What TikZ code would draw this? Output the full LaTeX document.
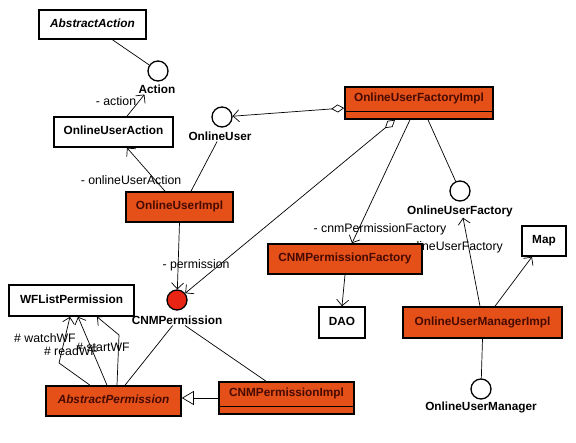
\documentclass[tikz,border=0pt]{standalone}
\usepackage{fontspec}
\setmainfont{Liberation Sans}
\usepackage{tikz}
\usetikzlibrary{arrows.meta,positioning}
\definecolor{classorange}{RGB}{228,80,24}
\definecolor{ifacered}{RGB}{232,36,20}
\definecolor{nametext}{RGB}{70,10,0}

\begin{document}
\begin{tikzpicture}[x=1pt,y=-1pt,
  cls/.style={draw,line width=1.6pt,fill=white,inner sep=0pt,font=\fontsize{11.8}{13}\selectfont\bfseries,text height=8.5pt,text depth=2.5pt},
  impl/.style={cls,fill=classorange,text=nametext},
  twopart/.style={text depth=10.5pt},
  abstr/.style={font=\fontsize{11.8}{13}\selectfont\bfseries\itshape},
  iface/.style={circle,draw,line width=1.3pt,fill=white,minimum size=20pt,inner sep=0pt},
  iname/.style={font=\fontsize{11.8}{13}\selectfont\bfseries,inner sep=1pt},
  role/.style={font=\fontsize{12.3}{14}\selectfont,inner sep=0pt},
  real/.style={line width=0.7pt},
  assoc/.style={line width=0.7pt,-{Straight Barb[length=6pt,width=12pt]}},
  agg/.style={line width=0.7pt,{Diamond[open,length=13pt,width=8pt]}-{Straight Barb[length=6pt,width=12pt]}},
  gen/.style={line width=0.7pt,-{Triangle[open,length=12pt,width=14pt,fill=white]}},
]
\useasboundingbox (0,0) rectangle (576,443);

% hidden partly by the factory box
\node[role,anchor=east] (roleOuFactory) at (503,247) {- onlineUserFactory};

% classes
\node[cls,abstr,minimum width=107pt,minimum height=29pt] (absAction) at (92.5,24.5) {AbstractAction};
\node[cls,minimum width=119pt,minimum height=30pt] (ouAction) at (113.5,132) {OnlineUserAction};
\node[impl,minimum width=107pt,minimum height=30pt] (ouImpl) at (179.5,207) {OnlineUserImpl};
\node[impl,twopart,minimum width=148pt,minimum height=32pt] (ouFactImpl) at (419,103) {OnlineUserFactoryImpl};
\node[cls,minimum width=125pt,minimum height=31pt] (wfList) at (71.5,300.5) {WFListPermission};
\node[impl,abstr,minimum width=135pt,minimum height=30pt] (absPerm) at (113.5,401) {AbstractPermission};
\node[impl,twopart,minimum width=135pt,minimum height=32pt] (cnmPermImpl) at (286.5,398) {CNMPermissionImpl};
\node[impl,minimum width=154pt,minimum height=30pt] (cnmPermFact) at (345,259) {CNMPermissionFactory};
\node[cls,minimum width=46pt,minimum height=31pt] (dao) at (342,322.5) {DAO};
\node[impl,minimum width=159pt,minimum height=31pt] (ouMgrImpl) at (482.5,322.5) {OnlineUserManagerImpl};
\node[cls,minimum width=44pt,minimum height=30pt] (map) at (544,241) {Map};
\draw[line width=0.7pt] ([yshift=8pt]ouFactImpl.south west) -- ([yshift=8pt]ouFactImpl.south east);
\draw[line width=0.7pt] ([yshift=8pt]cnmPermImpl.south west) -- ([yshift=8pt]cnmPermImpl.south east);

% interfaces
\node[iface] (action) at (158,71) {};
\node[iname] (actionLbl) at (157,89) {Action};
\node[iface] (onlineUser) at (222,117) {};
\node[iname] (onlineUserLbl) at (220,136) {OnlineUser};
\node[iface,fill=ifacered] (cnmPerm) at (177,300) {};
\node[iname] (cnmPermLbl) at (177,320) {CNMPermission};
\node[iface] (ouFactory) at (460,191) {};
\node[iname] (ouFactoryLbl) at (460,211) {OnlineUserFactory};
\node[iface] (ouManager) at (481,389) {};
\node[iname] (ouManagerLbl) at (481,407) {OnlineUserManager};

% roles
\node[role] (roleAction) at (116,101) {- action};
\node[role] (roleOuAction) at (131,180) {- onlineUserAction};
\node[role] (rolePerm) at (196,265) {- permission};
\node[role] (roleCnmFact) at (380,229) {- cnmPermissionFactory};
\node[role] (roleWatch) at (45,338) {\# watchWF};
\node[role] (roleRead) at (71,351) {\# readWF};
\node[role] (roleStart) at (103,347) {\# startWF};

\coordinate (watchBend) at (59,363);
\coordinate (startBend) at (119,335);

% links
\draw[real] ([xshift=20pt]absAction.south) -- (action);
\draw[assoc] ([xshift=13.5pt]ouAction.north) -- ([xshift=7pt]actionLbl.south west);
\draw[assoc] ([xshift=-14.5pt]ouImpl.north) -- ([xshift=13.5pt]ouAction.south);
\draw[real] ([xshift=11.5pt]ouImpl.north) -- (onlineUserLbl);
\draw[agg] ([yshift=-5pt]ouFactImpl.west) -- (onlineUser);
\draw[agg] ([xshift=-24pt]ouFactImpl.south) -- (cnmPerm);
\draw[assoc] ([xshift=-9pt]ouFactImpl.south) -- ([xshift=7pt]cnmPermFact.north);
\draw[real] ([xshift=9pt]ouFactImpl.south) -- (ouFactory);
\draw[assoc] ([xshift=-2.5pt]ouMgrImpl.north) -- ([xshift=3pt]ouFactoryLbl.south);
\draw[assoc] ([xshift=12.5pt]ouMgrImpl.north) -- ([xshift=-12pt]map.south);
\draw[real] (ouMgrImpl.south) -- (ouManager);
\draw[assoc] (cnmPermFact.south) -- (dao.north);
\draw[assoc] (ouImpl.south) -- (cnmPerm);
\draw[real] ([xshift=11.5pt]absPerm.north) -- (cnmPermLbl);
\draw[real] ([xshift=-20.5pt]cnmPermImpl.north) -- (cnmPermLbl);
\draw[gen] (cnmPermImpl.west) -- (cnmPermImpl.west -| absPerm.east);
\draw[assoc] ([xshift=-23.5pt]absPerm.north) -- (watchBend) -- ([xshift=-1.5pt]wfList.south);
\draw[assoc] ([xshift=-6.5pt]absPerm.north) -- ([xshift=6.5pt]wfList.south);
\draw[assoc] ([xshift=3.5pt]absPerm.north) -- (startBend) -- ([xshift=25.5pt]wfList.south);
\end{tikzpicture}
\end{document}
